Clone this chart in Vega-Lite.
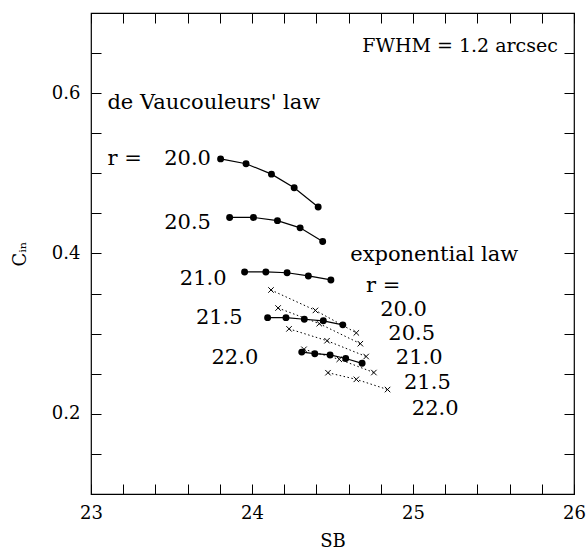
{
  "$schema": "https://vega.github.io/schema/vega-lite/v6.json",
  "width": 483,
  "height": 481,
  "autosize": {"type": "none"},
  "padding": {"left": 91, "top": 13, "right": 13, "bottom": 53},
  "background": "white",
  "config": {
    "font": "DejaVu Serif",
    "view": {"stroke": "black", "strokeWidth": 1.2},
    "axis": {
      "grid": false,
      "domain": false,
      "zindex": 1,
      "ticks": true,
      "tickColor": "black",
      "tickWidth": 1,
      "tickOpacity": 1,
      "labelColor": "black",
      "labelFont": "DejaVu Serif",
      "labelFontSize": 18,
      "titleFont": "DejaVu Serif",
      "titleFontSize": 18,
      "titleFontWeight": "normal",
      "titleColor": "black"
    }
  },
  "datasets": {
    "dvc": [
      {"r": "20.0", "x": 23.805, "y": 0.518},
      {"r": "20.0", "x": 23.963, "y": 0.512},
      {"r": "20.0", "x": 24.121, "y": 0.499},
      {"r": "20.0", "x": 24.262, "y": 0.482},
      {"r": "20.0", "x": 24.411, "y": 0.458},
      {"r": "20.5", "x": 23.861, "y": 0.445},
      {"r": "20.5", "x": 24.009, "y": 0.445},
      {"r": "20.5", "x": 24.158, "y": 0.441},
      {"r": "20.5", "x": 24.299, "y": 0.432},
      {"r": "20.5", "x": 24.439, "y": 0.415},
      {"r": "21.0", "x": 23.954, "y": 0.377},
      {"r": "21.0", "x": 24.086, "y": 0.377},
      {"r": "21.0", "x": 24.218, "y": 0.376},
      {"r": "21.0", "x": 24.350, "y": 0.372},
      {"r": "21.0", "x": 24.490, "y": 0.367},
      {"r": "21.5", "x": 24.097, "y": 0.320},
      {"r": "21.5", "x": 24.211, "y": 0.320},
      {"r": "21.5", "x": 24.325, "y": 0.318},
      {"r": "21.5", "x": 24.443, "y": 0.316},
      {"r": "21.5", "x": 24.564, "y": 0.311},
      {"r": "22.0", "x": 24.309, "y": 0.277},
      {"r": "22.0", "x": 24.390, "y": 0.275},
      {"r": "22.0", "x": 24.485, "y": 0.2735},
      {"r": "22.0", "x": 24.582, "y": 0.269},
      {"r": "22.0", "x": 24.684, "y": 0.263}
    ],
    "exp": [
      {"r": "20.0", "x": 24.118, "y": 0.3545},
      {"r": "20.0", "x": 24.394, "y": 0.329},
      {"r": "20.0", "x": 24.648, "y": 0.301},
      {"r": "20.5", "x": 24.162, "y": 0.332},
      {"r": "20.5", "x": 24.418, "y": 0.3125},
      {"r": "20.5", "x": 24.673, "y": 0.2875},
      {"r": "21.0", "x": 24.230, "y": 0.306},
      {"r": "21.0", "x": 24.466, "y": 0.2912},
      {"r": "21.0", "x": 24.709, "y": 0.2715},
      {"r": "21.5", "x": 24.323, "y": 0.2805},
      {"r": "21.5", "x": 24.542, "y": 0.268},
      {"r": "21.5", "x": 24.757, "y": 0.2515},
      {"r": "22.0", "x": 24.472, "y": 0.2513},
      {"r": "22.0", "x": 24.648, "y": 0.243},
      {"r": "22.0", "x": 24.842, "y": 0.2303}
    ],
    "fwhm": [
      {"x": 25.90, "y": 0.651, "t": "FWHM = 1.2 arcsec"}
    ],
    "labRight": [
      {"x": 23.745, "y": 0.510, "t": "20.0"},
      {"x": 23.745, "y": 0.430, "t": "20.5"},
      {"x": 23.842, "y": 0.361, "t": "21.0"},
      {"x": 23.942, "y": 0.312, "t": "21.5"},
      {"x": 24.039, "y": 0.262, "t": "22.0"}
    ],
    "labLeft": [
      {"x": 23.102, "y": 0.580, "t": "de Vaucouleurs' law"},
      {"x": 23.102, "y": 0.510, "t": "r  ="},
      {"x": 24.610, "y": 0.391, "t": "exponential law"},
      {"x": 24.708, "y": 0.352, "t": "r  ="},
      {"x": 24.796, "y": 0.322, "t": "20.0"},
      {"x": 24.847, "y": 0.292, "t": "20.5"},
      {"x": 24.893, "y": 0.262, "t": "21.0"},
      {"x": 24.944, "y": 0.231, "t": "21.5"},
      {"x": 24.993, "y": 0.199, "t": "22.0"}
    ],
    "sub": [
      {"x": 24.585, "y": 0.024, "t": "μ"}
    ]
  },
  "layer": [
    {
      "data": {"name": "dvc"},
      "mark": {"type": "line", "color": "black", "strokeWidth": 1.2},
      "encoding": {
        "x": {
          "field": "x", "type": "quantitative",
          "scale": {"domain": [23, 26], "nice": false, "zero": false},
          "axis": {
            "orient": "bottom",
            "title": "SB",
            "titlePadding": 10,
            "values": [23, 23.2, 23.4, 23.6, 23.8, 24, 24.2, 24.4, 24.6, 24.8, 25, 25.2, 25.4, 25.6, 25.8, 26],
            "labelExpr": "abs(datum.value - round(datum.value)) < 0.001 ? format(datum.value, 'd') : ''",
            "tickSize": -10,
            "labelPadding": 20,
            "labelFlush": false,
            "labelOverlap": false
          }
        },
        "y": {
          "field": "y", "type": "quantitative",
          "scale": {"domain": [0.1, 0.7], "nice": false, "zero": false},
          "axis": {
            "orient": "left",
            "title": "Cᵢₙ",
            "titlePadding": 22,
            "values": [0.1, 0.15, 0.2, 0.25, 0.3, 0.35, 0.4, 0.45, 0.5, 0.55, 0.6, 0.65, 0.7],
            "labelExpr": "abs(datum.value * 5 - round(datum.value * 5)) < 0.001 ? format(datum.value, '.1f') : ''",
            "tickSize": -10,
            "labelPadding": 21,
            "labelFlush": false,
            "labelOverlap": false
          }
        },
        "detail": {"field": "r"}
      }
    },
    {
      "data": {"name": "exp"},
      "mark": {"type": "line", "color": "black", "strokeWidth": 1, "strokeDash": [1.5, 2.5]},
      "encoding": {
        "x": {
          "field": "x", "type": "quantitative",
          "axis": {
            "orient": "top",
            "title": null,
            "labelExpr": "''",
            "values": [23, 23.2, 23.4, 23.6, 23.8, 24, 24.2, 24.4, 24.6, 24.8, 25, 25.2, 25.4, 25.6, 25.8, 26],
            "tickSize": -10
          }
        },
        "y": {
          "field": "y", "type": "quantitative",
          "axis": {
            "orient": "right",
            "title": null,
            "labelExpr": "''",
            "values": [0.1, 0.15, 0.2, 0.25, 0.3, 0.35, 0.4, 0.45, 0.5, 0.55, 0.6, 0.65, 0.7],
            "tickSize": -10
          }
        },
        "detail": {"field": "r"}
      }
    },
    {
      "data": {"name": "exp"},
      "mark": {"type": "point", "shape": "M-1,-1L1,1M-1,1L1,-1", "filled": false, "color": "black", "strokeWidth": 1, "size": 30, "opacity": 1},
      "encoding": {
        "x": {"field": "x", "type": "quantitative", "axis": null},
        "y": {"field": "y", "type": "quantitative", "axis": null}
      }
    },
    {
      "data": {"name": "dvc"},
      "mark": {"type": "circle", "color": "black", "size": 48, "opacity": 1},
      "encoding": {
        "x": {"field": "x", "type": "quantitative", "axis": null},
        "y": {"field": "y", "type": "quantitative", "axis": null}
      }
    },
    {
      "data": {"name": "fwhm"},
      "mark": {"type": "text", "align": "right", "baseline": "alphabetic", "font": "DejaVu Serif", "fontSize": 19, "color": "black"},
      "encoding": {
        "x": {"field": "x", "type": "quantitative", "axis": null},
        "y": {"field": "y", "type": "quantitative", "axis": null},
        "text": {"field": "t"}
      }
    },
    {
      "data": {"name": "labRight"},
      "mark": {"type": "text", "align": "right", "baseline": "alphabetic", "font": "DejaVu Serif", "fontSize": 21, "color": "black"},
      "encoding": {
        "x": {"field": "x", "type": "quantitative", "axis": null},
        "y": {"field": "y", "type": "quantitative", "axis": null},
        "text": {"field": "t"}
      }
    },
    {
      "data": {"name": "labLeft"},
      "mark": {"type": "text", "align": "left", "baseline": "alphabetic", "font": "DejaVu Serif", "fontSize": 21, "color": "black"},
      "encoding": {
        "x": {"field": "x", "type": "quantitative", "axis": null},
        "y": {"field": "y", "type": "quantitative", "axis": null},
        "text": {"field": "t"}
      }
    },
    {
      "data": {"name": "sub"},
      "mark": {"type": "text", "align": "left", "baseline": "alphabetic", "font": "DejaVu Serif", "fontSize": 13, "color": "black"},
      "encoding": {
        "x": {"field": "x", "type": "quantitative", "axis": null},
        "y": {"field": "y", "type": "quantitative", "axis": null},
        "text": {"field": "t"}
      }
    }
  ],
  "resolve": {"axis": {"x": "independent", "y": "independent"}}
}
